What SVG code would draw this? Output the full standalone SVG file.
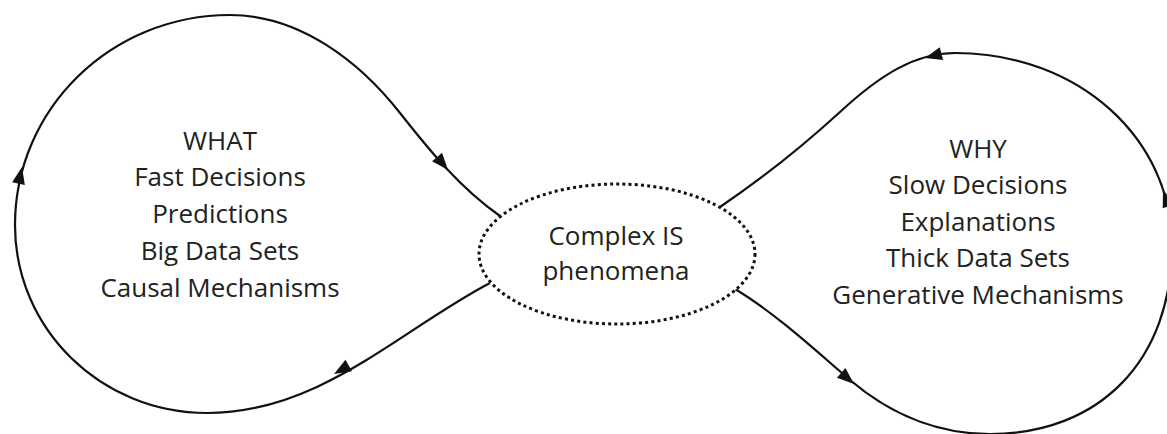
<svg xmlns="http://www.w3.org/2000/svg" width="1167" height="434" viewBox="0 0 1167 434">
<style>
.loop{fill:none;stroke:#111;stroke-width:2.2}
.lbl{font-family:"Open Sans","Liberation Sans",sans-serif;font-size:26px;fill:#222;text-anchor:middle}
.ell{fill:#fff;stroke:#111;stroke-width:3;stroke-dasharray:3 3.2}
</style>
<defs>
<path id="ah" d="M0,0 L-17,-6.5 L-17,6.5 Z" fill="#111"/>
</defs>
<rect width="1167" height="434" fill="#fff"/>
<g id="connectors">
<path class="loop" d="M 490 283 C 400 330, 320 413, 207 413 C 101 413, 15 329, 15 225 C 15 109, 111 15, 230 15 C 300 15, 360 62, 400 113 C 430 151, 460 188, 500 216"/>
<path class="loop" d="M 735 289 C 775 313, 815 350, 850 380 C 890 414, 935 434, 990 434 C 1100 434, 1172 360, 1172 245 C 1172 140, 1080 53, 955 53 C 915 53, 880 75, 840 112 C 805 144, 760 180, 720 207"/>
<use href="#ah" transform="translate(448,170) rotate(50)"/>
<use href="#ah" transform="translate(334,374) rotate(150)"/>
<use href="#ah" transform="translate(22,167) rotate(-78)"/>
<use href="#ah" transform="translate(854,384) rotate(41)"/>
<use href="#ah" transform="translate(925,58) rotate(165)"/>
<use href="#ah" transform="translate(1163,190) rotate(-110)"/>
</g>
<g id="center">
<ellipse class="ell" cx="617" cy="254" rx="138" ry="70"/>
<text class="lbl" x="616" y="245">Complex IS</text>
<text class="lbl" x="616" y="280">phenomena</text>
</g>
<g id="what">
<text class="lbl" x="220" y="150">WHAT</text>
<text class="lbl" x="220" y="186">Fast Decisions</text>
<text class="lbl" x="220" y="223">Predictions</text>
<text class="lbl" x="220" y="260">Big Data Sets</text>
<text class="lbl" x="220" y="297">Causal Mechanisms</text>
</g>
<g id="why">
<text class="lbl" x="978" y="158">WHY</text>
<text class="lbl" x="978" y="194">Slow Decisions</text>
<text class="lbl" x="978" y="231">Explanations</text>
<text class="lbl" x="978" y="267">Thick Data Sets</text>
<text class="lbl" x="978" y="304">Generative Mechanisms</text>
</g>
</svg>
